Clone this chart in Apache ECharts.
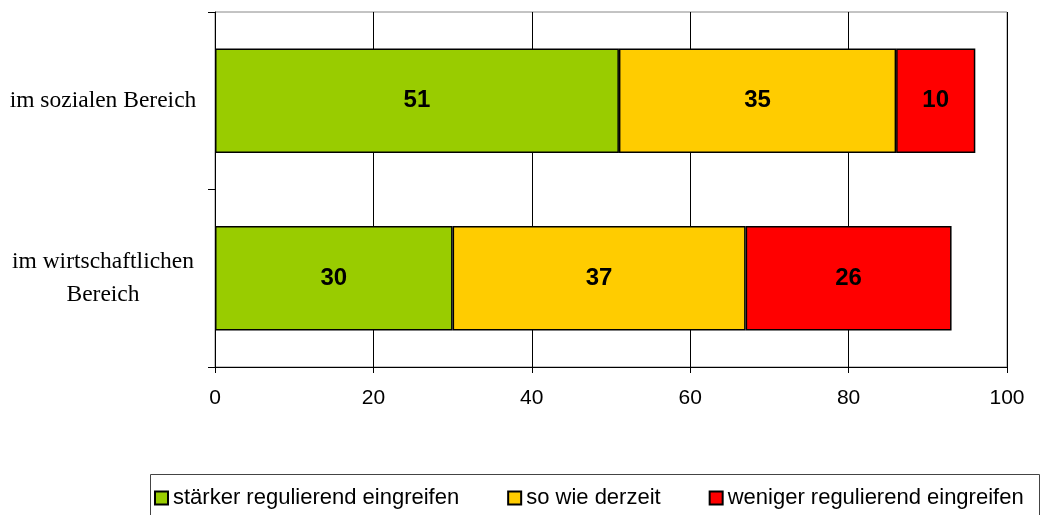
<!DOCTYPE html>
<html>
<head>
<meta charset="utf-8">
<script src="https://cdn.jsdelivr.net/npm/echarts@6/dist/echarts.min.js"></script>
<style>
  html, body { margin: 0; padding: 0; background: #fff; }
  #chart { width: 1048px; height: 515px; }
</style>
</head>
<body>
<div id="chart"></div>
<script>
// Kategorien (von oben nach unten)
var categories = ["im sozialen Bereich", "im wirtschaftlichen\nBereich"];
// Werte je Antwort
var staerker = [51, 30];
var sowie = [35, 37];
var weniger = [10, 26];
var seriesNames = ["stärker regulierend eingreifen", "so wie derzeit", "weniger regulierend eingreifen"];
var xTicks = [0, 20, 40, 60, 80, 100];

var chart = echarts.init(document.getElementById("chart"));

function barSeries(name, data, color) {
  return {
    name: name,
    type: "bar",
    stack: "total",
    barCategoryGap: "41%",
    data: data,
    itemStyle: { color: color, borderColor: "#000", borderWidth: 1.5 },
    label: {
      show: true,
      position: "inside",
      color: "#000",
      fontFamily: "Liberation Sans, Arial, sans-serif",
      fontWeight: "bold",
      fontSize: 24
    }
  };
}

var option = {
  animation: false,
  backgroundColor: "#fff",
  grid: {
    left: 215, right: 41, top: 12, bottom: 148,
    show: true, borderColor: "#888", borderWidth: 1
  },
  xAxis: {
    type: "value",
    min: xTicks[0],
    max: xTicks[xTicks.length - 1],
    interval: 20,
    axisLine: { show: true, lineStyle: { color: "#000", width: 1 } },
    axisTick: { show: true, length: 6, lineStyle: { color: "#000" } },
    splitLine: { show: true, lineStyle: { color: "#000", width: 1 } },
    axisLabel: {
      color: "#000", fontSize: 21, margin: 21,
      fontFamily: "Liberation Sans, Arial, sans-serif"
    }
  },
  yAxis: {
    type: "category",
    inverse: true,
    data: categories,
    axisLine: { show: true, lineStyle: { color: "#000", width: 1 } },
    axisTick: { show: true, length: 7, lineStyle: { color: "#000" } },
    axisLabel: {
      color: "#000", fontSize: 23.5, margin: 112, align: "center", lineHeight: 33,
      fontFamily: "Liberation Serif, Times New Roman, serif"
    }
  },
  legend: {
    left: 149, top: 482,
    itemWidth: 13, itemHeight: 13, itemGap: 48,
    icon: "rect",
    textStyle: {
      color: "#000", fontSize: 22, padding: [0, 0, 0, 0],
      fontFamily: "Liberation Sans, Arial, sans-serif"
    },
    data: seriesNames
  },
  graphic: [{
    type: "rect",
    shape: { x: 150.5, y: 474.5, width: 889, height: 50 },
    style: { fill: "none", stroke: "#444", lineWidth: 1 },
    silent: true
  }],
  series: [
    barSeries(seriesNames[0], staerker, "#99cc00"),
    barSeries(seriesNames[1], sowie, "#ffcc00"),
    barSeries(seriesNames[2], weniger, "#ff0000")
  ]
};

window.onresize = chart.resize;
chart.setOption(option);
</script>
</body>
</html>
